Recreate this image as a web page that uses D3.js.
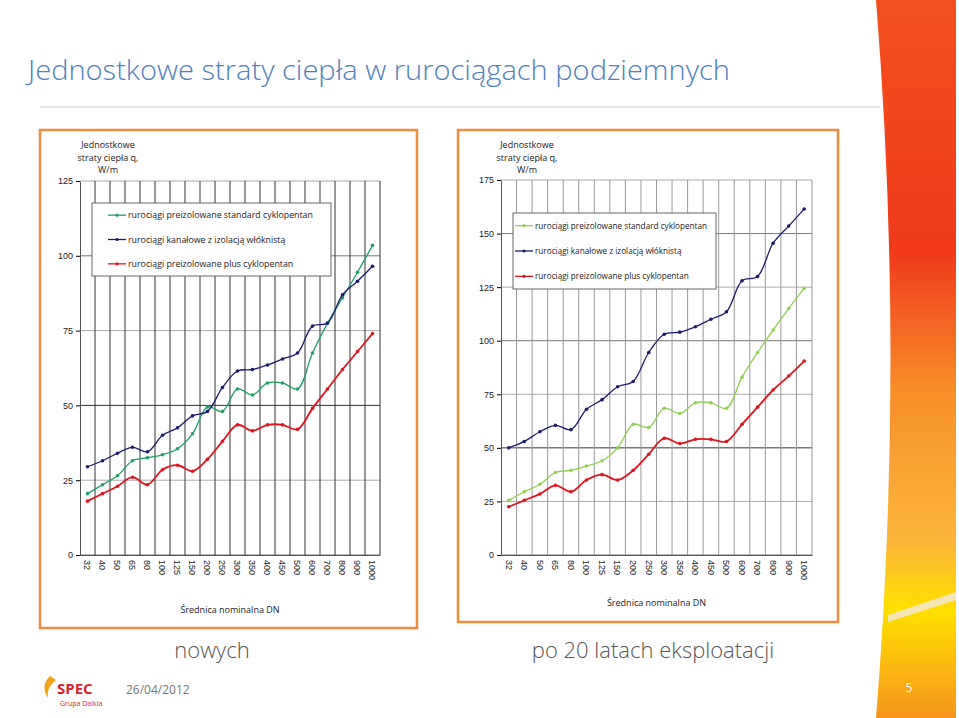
<!DOCTYPE html>
<html><head><meta charset="utf-8">
<script src="https://cdn.jsdelivr.net/npm/d3@7"></script>
<style>body{margin:0;background:#fff}svg{display:block;font-family:"Open Sans",sans-serif}</style>
</head><body><svg id="slide" width="959" height="718"></svg>
<script>
const categories = ['32','40','50','65','80','100','125','150','200','250','300','350','400','450','500','600','700','800','900','1000'];
const seriesNames = ['rurociągi preizolowane standard cyklopentan','rurociągi kanałowe z izolacją włóknistą','rurociągi preizolowane plus cyklopentan'];
const newGreen = [20.5,23.5,26.5,31.5,32.5,33.5,35.5,40.5,49.5,48,55.5,53.5,57.5,57.5,55.5,67.5,77.5,86,94.5,103.5];
const newBlue  = [29.5,31.5,34,36,34.5,40,42.5,46.5,48,56,61.5,62,63.5,65.5,67.5,76.5,77.5,87,91.5,96.5];
const newRed   = [18,20.5,23,26,23.5,28.5,30,28,32,38,43.5,41.5,43.5,43.5,42,49,55.5,62,68,74];
const oldGreen = [25.5,29.5,33,38.5,39.5,41.5,44,50,61,59.5,68.5,66,71,71,68.5,83,94.5,105,115,124.5];
const oldBlue  = [50,53,57.5,60.5,58.5,68,72.5,78.5,81,94.5,103,104,106.5,110,113.5,128,130,145.5,153.5,161.5];
const oldRed   = [22.5,25.5,28.5,32.5,29.5,35,37.5,35,39.5,47,54.5,52,54,54,53,61,69,77,83.5,90.5];
const leftTicks = [0,25,50,75,100,125];
const rightTicks = [0,25,50,75,100,125,150,175];

const svg = d3.select('#slide');

// decorative band on the right
const defs = svg.append('defs');
const grad = defs.append('linearGradient').attr('id','flame').attr('x1',0).attr('y1',0).attr('x2',0).attr('y2',1);
[['0%','#f4501e'],['35%','#f03a1a'],['55%','#f7902a'],['75%','#fbb43a'],['85%','#ffe000'],['100%','#f7941d']]
  .forEach(s => grad.append('stop').attr('offset',s[0]).attr('stop-color',s[1]));
svg.append('path')
  .attr('d','M876,0 Q905,360 876,718 L956,718 L956,0 Z')
  .attr('fill','url(#flame)');
svg.append('path').attr('d','M888,615 L956,592 L956,600 L888,622 Z').attr('fill','#f5e6e0').attr('opacity',0.8);
svg.append('text').attr('x',909).attr('y',692).attr('font-size',12).attr('fill','#fff').attr('text-anchor','middle').text('5');

svg.append('text').attr('x',28).attr('y',80).attr('font-size',27).attr('fill','#4f81bd')
  .attr('font-weight',300).attr('textLength',702).attr('lengthAdjust','spacingAndGlyphs')
  .text('Jednostkowe straty ciepła w rurociągach podziemnych');
svg.append('line').attr('x1',40).attr('x2',880).attr('y1',107).attr('y2',107).attr('stroke','#ccc');

function drawChart(o) {
  const g = svg.append('g');
  g.append('rect').attr('x',o.box[0]).attr('y',o.box[1]).attr('width',o.box[2]).attr('height',o.box[3])
    .attr('fill','#fff').attr('stroke','#f08c3c').attr('stroke-width',2.5);

  const x = d3.scaleBand().domain(categories).range([o.x0,o.x1]);
  const y = d3.scaleLinear().domain([0,o.ymax]).range([o.y0,o.y1]);

  g.selectAll('.hg').data(o.ticks).join('line')
    .attr('x1',o.x0).attr('x2',o.x1).attr('y1',d=>y(d)).attr('y2',d=>y(d))
    .attr('stroke',d => d===50 ? '#333' : (d%50===0 ? '#777' : '#aaa')).attr('stroke-width',1);
  g.selectAll('.vg').data(categories.slice(1).concat(['end'])).join('line')
    .attr('x1',(d,i)=>o.x0+(i+1)*x.bandwidth()).attr('x2',(d,i)=>o.x0+(i+1)*x.bandwidth())
    .attr('y1',o.y1).attr('y2',o.y0).attr('stroke',o.vColor).attr('stroke-width',1);

  const ya = g.append('g').attr('transform',`translate(${o.x0},0)`)
    .call(d3.axisLeft(y).tickValues(o.ticks).tickSize(4).tickSizeOuter(0));
  ya.select('.domain').attr('stroke','#555');
  ya.selectAll('text').attr('font-size',9).attr('fill','#222');
  const xa = g.append('g').attr('transform',`translate(0,${o.y0})`)
    .call(d3.axisBottom(x).tickSize(0).tickSizeOuter(0));
  xa.select('.domain').attr('stroke','#555');
  xa.selectAll('text').attr('font-size',9).attr('fill','#222')
    .attr('transform','rotate(90)').attr('text-anchor','start').attr('x',5).attr('y',0).attr('dy','0.35em');

  const cx = (d,i) => x(categories[i]) + x.bandwidth()/2;
  const line = d3.line().x(cx).y(d=>y(d)).curve(d3.curveCatmullRom.alpha(0.5));
  o.series.forEach(s => {
    g.append('path').datum(s.values).attr('d',line).attr('fill','none').attr('stroke',s.color).attr('stroke-width',s.w);
    g.selectAll(null).data(s.values).join('circle').attr('cx',cx).attr('cy',d=>y(d)).attr('r',1.8).attr('fill',s.color);
  });

  // legend
  const L = o.legend;
  g.append('rect').attr('x',L[0]).attr('y',L[1]).attr('width',L[2]).attr('height',L[3])
    .attr('fill','#fff').attr('stroke','#666');
  o.series.forEach((s,i) => {
    const ly = L[1] + L[3]*(i*2+1)/6;
    g.append('line').attr('x1',L[0]+o.lx-18).attr('x2',L[0]+o.lx).attr('y1',ly).attr('y2',ly).attr('stroke',s.color).attr('stroke-width',1.3);
    g.append('circle').attr('cx',L[0]+o.lx-9).attr('cy',ly).attr('r',1.6).attr('fill',s.color);
    g.append('text').attr('x',L[0]+o.lx+2).attr('y',ly).attr('dy','0.35em').attr('font-size',o.lfs).attr('fill','#222').text(seriesNames[i]);
  });

  // axis titles
  ['Jednostkowe', o.ylabel, 'W/m'].forEach((t,i) =>
    g.append('text').attr('x',o.ytx).attr('y',o.box[1]+18+i*12.5).attr('text-anchor','middle')
      .attr('font-size',9).attr('fill','#222').text(t));
  g.append('text').attr('x',(o.x0+o.x1)/2).attr('y',o.xty).attr('text-anchor','middle')
    .attr('font-size',9).attr('fill','#222').text('Średnica nominalna DN');
}

drawChart({box:[40,130,377,498], x0:80, x1:380, y0:555, y1:181, ymax:125, ticks:leftTicks,
  vColor:'#333', legend:[92,203,239,73], lx:34, lfs:8.8, ytx:108, ylabel:'straty ciepła q,', xty:613,
  series:[{values:newGreen,color:'#1fa164',w:1.3},{values:newBlue,color:'#1c1c6e',w:1.3},{values:newRed,color:'#e0141e',w:1.8}]});
drawChart({box:[458,130,380,492], x0:501, x1:812, y0:555, y1:180, ymax:175, ticks:rightTicks,
  vColor:'#999', legend:[513,213,203,76], lx:20, lfs:8.2, ytx:527, ylabel:'straty ciepła q,', xty:606,
  series:[{values:oldGreen,color:'#92d050',w:1.3},{values:oldBlue,color:'#1c1c6e',w:1.3},{values:oldRed,color:'#e0141e',w:1.8}]});

svg.append('text').attr('x',212).attr('y',658).attr('text-anchor','middle').attr('font-size',22).attr('fill','#555').attr('font-weight',300).text('nowych');
svg.append('text').attr('x',653).attr('y',658).attr('text-anchor','middle').attr('font-size',22).attr('fill','#555').attr('font-weight',300).text('po 20 latach eksploatacji');
svg.append('text').attr('x',126).attr('y',694).attr('font-size',12).attr('fill','#777').text('26/04/2012');
// logo
svg.append('path').attr('d','M50,676 Q40,686 48,698 Q46,688 56,680 Z').attr('fill','#f5a21b');
svg.append('text').attr('x',57).attr('y',694).attr('font-size',15).attr('font-weight',700).attr('fill','#d9232d').text('SPEC');
svg.append('text').attr('x',60).attr('y',706).attr('font-size',7).attr('fill','#d9232d').text('Grupa Dalkia');
</script></body></html>
